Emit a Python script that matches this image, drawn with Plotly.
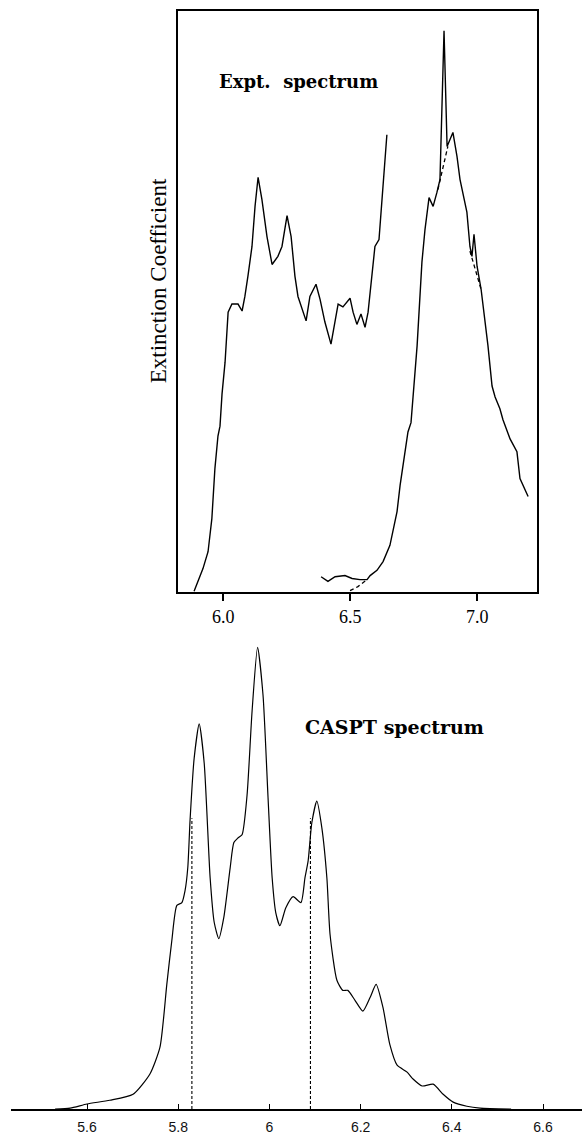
import plotly.graph_objects as go

# ---------------- Experimental spectrum (top panel) ----------------
expt_left_e = [5.885, 5.920, 5.940, 5.955, 5.967, 5.979, 5.987, 5.995, 6.007, 6.019,
               6.034, 6.058, 6.074, 6.085, 6.097, 6.113, 6.125, 6.137, 6.152, 6.172,
               6.192, 6.215, 6.231, 6.251, 6.267, 6.282, 6.294, 6.326, 6.341, 6.365,
               6.381, 6.400, 6.424, 6.440, 6.452, 6.471, 6.499, 6.511, 6.526, 6.542,
               6.558, 6.570, 6.585, 6.597, 6.613, 6.621, 6.629, 6.644]
expt_left_i = [0.2, 4.1, 7.0, 12.7, 21.3, 26.9, 28.6, 34.1, 39.6, 48.2,
               49.6, 49.6, 48.4, 50.9, 54.4, 59.5, 66.4, 71.4, 67.6, 61.2,
               56.4, 57.8, 59.5, 64.8, 61.2, 54.4, 50.9, 46.7, 50.9, 53.0,
               50.4, 46.5, 42.7, 47.0, 49.6, 49.1, 50.6, 48.2, 46.1, 47.9,
               45.6, 48.2, 53.9, 59.5, 60.7, 65.4, 71.0, 78.7]

expt_right_e = [6.385, 6.412, 6.440, 6.479, 6.507, 6.538, 6.566, 6.578, 6.605, 6.629,
                6.656, 6.684, 6.696, 6.715, 6.727, 6.739, 6.763, 6.782, 6.794, 6.810,
                6.826, 6.841, 6.853, 6.869, 6.881, 6.904, 6.920, 6.932, 6.944, 6.959,
                6.971, 6.979, 6.987, 6.999, 7.015, 7.030, 7.042, 7.058, 7.070, 7.089,
                7.101, 7.129, 7.156, 7.168, 7.180, 7.200]
expt_right_i = [2.7, 1.9, 2.7, 2.9, 2.4, 2.2, 2.2, 2.9, 3.8, 5.3,
                8.1, 13.9, 18.4, 24.2, 27.6, 29.2, 42.4, 56.8, 62.4, 67.9,
                66.4, 68.8, 71.0, 96.6, 76.7, 79.1, 75.0, 71.0, 68.4, 65.4,
                59.5, 57.8, 61.6, 56.1, 52.1, 47.0, 42.4, 35.5, 33.6, 31.6,
                29.7, 26.4, 24.2, 19.6, 18.4, 16.5]

# dashed alternative trace (segments separated by None)
expt_dash_e = [6.499, 6.530, 6.566, None, 6.845, 6.865, 6.884, None, 6.971, 6.991, 7.015]
expt_dash_i = [0.3, 1.0, 2.2, None, 69.3, 73.1, 76.7, None, 58.7, 55.6, 52.1]

expt_ticks = [6.0, 6.5, 7.0]
expt_tick_text = ["6.0", "6.5", "7.0"]

# ---------------- CASPT spectrum (bottom panel) ----------------
caspt_e = [5.530, 5.563, 5.600, 5.650, 5.701, 5.738, 5.760, 5.775, 5.786, 5.797,
           5.808, 5.815, 5.821, 5.826, 5.835, 5.846, 5.857, 5.870, 5.879, 5.889,
           5.900, 5.914, 5.922, 5.931, 5.940, 5.951, 5.962, 5.974, 5.986, 5.997,
           6.006, 6.014, 6.023, 6.036, 6.052, 6.069, 6.078, 6.085, 6.093, 6.104,
           6.115, 6.126, 6.133, 6.148, 6.161, 6.172, 6.188, 6.205, 6.221, 6.234,
           6.249, 6.264, 6.280, 6.302, 6.315, 6.335, 6.359, 6.381, 6.403, 6.433,
           6.462, 6.530]
caspt_i = [0.0, 0.2, 1.1, 1.9, 3.2, 7.6, 13.4, 27.0, 36.5, 44.1,
           44.7, 47.3, 52.3, 62.6, 76.0, 83.4, 74.9, 50.1, 40.4, 36.9,
           41.5, 52.3, 57.7, 58.7, 59.4, 68.0, 86.2, 100.0, 89.6, 67.4,
           50.1, 42.5, 39.7, 43.6, 46.0, 44.7, 50.1, 53.8, 62.0, 66.7,
           60.9, 50.1, 37.8, 27.9, 25.7, 25.7, 23.5, 21.2, 24.2, 27.0,
           22.0, 14.0, 9.5, 8.0, 6.5, 5.0, 5.4, 3.2, 1.5, 0.6,
           0.2, 0.0]

stick_e = [5.83, 6.09]
stick_i = [63.0, 63.0]

caspt_ticks = [5.6, 5.8, 6.0, 6.2, 6.4, 6.6]
caspt_tick_text = ["5.6", "5.8", "6", "6.2", "6.4", "6.6"]

fig = go.Figure()

line_top = dict(color="black", width=1.4)
fig.add_trace(go.Scatter(x=expt_left_e, y=expt_left_i, mode="lines", line=line_top,
                         xaxis="x", yaxis="y", showlegend=False))
fig.add_trace(go.Scatter(x=expt_right_e, y=expt_right_i, mode="lines", line=line_top,
                         xaxis="x", yaxis="y", showlegend=False))
fig.add_trace(go.Scatter(x=expt_dash_e, y=expt_dash_i, mode="lines",
                         line=dict(color="black", width=1.3, dash="4px,3px"),
                         connectgaps=False, xaxis="x", yaxis="y", showlegend=False))

fig.add_trace(go.Scatter(x=caspt_e, y=caspt_i, mode="lines",
                         line=dict(color="black", width=1.2, shape="spline", smoothing=0.6),
                         xaxis="x2", yaxis="y2", showlegend=False))

# stick lines
sx, sy = [], []
for e, v in zip(stick_e, stick_i):
    sx += [e, e, None]
    sy += [0, v, None]
fig.add_trace(go.Scatter(x=sx, y=sy, mode="lines",
                         line=dict(color="black", width=1.1, dash="3px,2px"),
                         xaxis="x2", yaxis="y2", showlegend=False))

W, H = 582, 1135
fig.update_layout(
    width=W, height=H,
    margin=dict(l=0, r=0, t=0, b=0),
    paper_bgcolor="white", plot_bgcolor="white",
    xaxis=dict(domain=[178 / W, 537 / W], range=[5.8217, 7.2350],
               tickvals=expt_ticks, ticktext=expt_tick_text,
               ticks="outside", ticklen=7, tickwidth=1.5, tickcolor="black",
               showline=True, linecolor="black", linewidth=2, mirror=True,
               showgrid=False, zeroline=False,
               tickfont=dict(family="Liberation Serif", size=18, color="black"),
               anchor="y", fixedrange=True),
    yaxis=dict(domain=[(H - 594) / H, (H - 11) / H], range=[0, 100],
               showticklabels=False, ticks="",
               showline=True, linecolor="black", linewidth=2, mirror=True,
               showgrid=False, zeroline=False, anchor="x", fixedrange=True),
    xaxis2=dict(domain=[11 / W, 1.0], range=[5.4333, 6.6855],
                tickvals=caspt_ticks, ticktext=caspt_tick_text,
                ticks="inside", ticklen=5, tickwidth=1, tickcolor="black",
                showline=True, linecolor="black", linewidth=1.5,
                showgrid=False, zeroline=False,
                tickfont=dict(family="Liberation Sans", size=14, color="#111"),
                ticklabelstandoff=4,
                anchor="y2", fixedrange=True),
    yaxis2=dict(domain=[(H - 1112) / H, (H - 625.85) / H], range=[0, 105],
                visible=False, anchor="x2", fixedrange=True),
    annotations=[
        dict(text="<b>Expt.  spectrum</b>", xref="paper", yref="paper",
             x=217 / W, y=(H - 82) / H, xanchor="left", yanchor="middle",
             showarrow=False, font=dict(family="DejaVu Serif", size=18, color="black")),
        dict(text="<b>CASPT spectrum</b>", xref="paper", yref="paper",
             x=303 / W, y=(H - 729) / H, xanchor="left", yanchor="middle",
             showarrow=False, font=dict(family="DejaVu Serif", size=19, color="black")),
        dict(text="Extinction Coefficient", xref="paper", yref="paper",
             x=158 / W, y=(H - 282) / H, xanchor="center", yanchor="middle",
             textangle=-90, showarrow=False,
             font=dict(family="Liberation Serif", size=23, color="black")),
    ],
)

fig.write_html("out.html", config={"displayModeBar": False},
               post_script="document.body.style.margin='0px';document.body.style.overflow='hidden';")
